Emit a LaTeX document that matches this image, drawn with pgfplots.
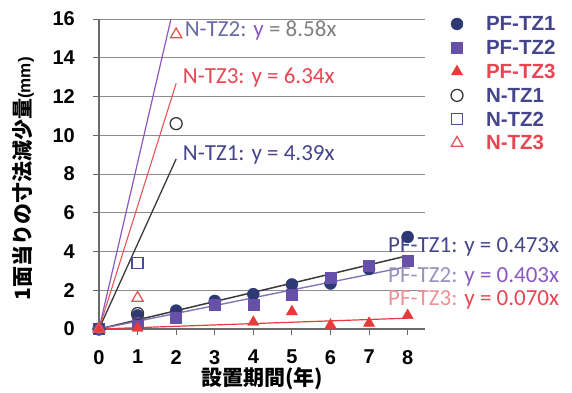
\documentclass[border=0pt]{standalone}
\usepackage{pgfplots}
\pgfplotsset{compat=1.18}
\usepackage{fontspec}
\setmainfont{Liberation Sans}
\newfontfamily\cjk{Noto Sans CJK JP}
\newfontfamily\lab{Carlito}
\definecolor{pfA}{HTML}{2F3A75}
\definecolor{pfB}{HTML}{6650A8}
\definecolor{pfC}{HTML}{E83A3A}
\definecolor{nA}{HTML}{3A3A3A}
\definecolor{nB}{HTML}{4C4C96}
\definecolor{nC}{HTML}{E05555}
\definecolor{axisgray}{HTML}{6A6A6A}
\definecolor{gridgray}{HTML}{8C8C8C}
\definecolor{lnavy}{HTML}{45458C}
\definecolor{lred}{HTML}{E84552}
\definecolor{lpurp}{HTML}{8A58C0}
\definecolor{lgrayp}{HTML}{9A90BC}
\definecolor{lpink}{HTML}{F09098}
\begin{document}
\begin{tikzpicture}[x=1pt,y=1pt]
\useasboundingbox (0,0) rectangle (572,392);
\begin{axis}[
  at={(99pt,63pt)}, anchor=south west,
  scale only axis, width=326pt, height=310pt,
  xmin=0, xmax=8.45, ymin=0, ymax=16,
  xtick={0,1,...,8}, ytick={0,2,...,16},
  axis lines=left,
  axis line style={-, draw=axisgray, line width=1.3pt},
  ymajorgrids, grid style={draw=gridgray, line width=1pt},
  tick align=outside, major tick length=6pt,
  tick style={draw=axisgray, line width=1pt},
  clip=false,
  /pgf/number format/assume math mode=true,
  ticklabel style={font=\bfseries\fontsize{20}{20}\selectfont},
  yticklabel style={anchor=east, inner sep=0pt, xshift=-18pt},
  xticklabel style={anchor=north, inner sep=0pt, yshift=-15pt},
  xlabel={\cjk\bfseries\fontsize{21}{21}\selectfont 設置期間(年)},
  xlabel style={at={(axis description cs:0.5,0)}, anchor=center, yshift=-50pt},
  ylabel={\cjk\bfseries\fontsize{21}{21}\selectfont 1面当りの寸法減少量{\fontspec{Liberation Sans}\bfseries\fontsize{17}{17}\selectfont(mm)}},
  ylabel style={at={(axis description cs:-0.233,0.484)}, anchor=center},
  legend style={draw=none, fill=none, inner sep=0pt, outer sep=0pt,
    at={(axis description cs:1.0798,1.0065)}, anchor=north west,
    font=\bfseries\fontsize{20.5}{20.5}\selectfont,
    nodes={inner sep=0pt, text height=14pt, text depth=0pt},
    row sep=9.8pt,
    /tikz/every odd column/.append style={column sep=23pt}},
  legend cell align=left,
  legend image code/.code={\draw[#1] plot coordinates {(0pt,0pt)};},
]
% data markers
\addplot[only marks, mark=*, mark size=6pt, draw=pfA, fill=pfA] coordinates {(0,0)(1,0.7)(2,0.95)(3,1.45)(4,1.8)(5,2.3)(6,2.35)(7,3.1)(8,4.75)};
\addlegendentry{\textcolor{lnavy}{PF-TZ1}}
\addplot[only marks, mark=square*, mark size=5.5pt, draw=pfB, fill=pfB] coordinates {(0,0)(1,0.35)(2,0.6)(3,1.25)(4,1.25)(5,1.75)(6,2.65)(7,3.25)(8,3.5)};
\addlegendentry{\textcolor{lnavy}{PF-TZ2}}
\addplot[only marks, mark=triangle*, mark size=6.5pt, draw=pfC, fill=pfC] coordinates {(0,0)(1,0.05)(4,0.35)(5,0.9)(6,0.2)(7,0.3)(8,0.7)};
\addlegendentry{\textcolor{lred}{PF-TZ3}}
\addplot[only marks, mark=o, mark size=6pt, draw=nA, fill=white, line width=1.3pt] coordinates {(0,0)(1,0.8)(2,10.6)};
\addlegendentry{\textcolor{lnavy}{N-TZ1}}
\addplot[only marks, mark=square, mark size=5.5pt, draw=nB, fill=white, line width=1.3pt] coordinates {(0,0)(1,3.4)};
\addlegendentry{\textcolor{lnavy}{N-TZ2}}
\addplot[only marks, mark=triangle, mark size=6.5pt, draw=nC, fill=white, line width=1.3pt] coordinates {(0,0)(1,1.6)(2,15.2)};
\addlegendentry{\textcolor{lred}{N-TZ3}}
% trend lines (y = a x)
\addplot[forget plot, no marks, draw=nA, line width=1.3pt] coordinates {(0,0)(2,8.78)};
\addplot[forget plot, no marks, draw=lpurp, line width=1.2pt] coordinates {(0,0)(1.865,16)};
\addplot[forget plot, no marks, draw=nC, line width=1.1pt] coordinates {(0,0)(2,12.68)};
\addplot[forget plot, no marks, draw=nA, line width=1.5pt] coordinates {(0,0)(8,3.784)};
\addplot[forget plot, no marks, draw=pfB!80!white, line width=1.4pt] coordinates {(0,0)(8,3.224)};
\addplot[forget plot, no marks, draw=pfC, line width=1.2pt] coordinates {(0,0)(8,0.56)};
% equation labels
\node[anchor=west, inner sep=0pt, font=\lab\fontsize{23}{23}\selectfont] at (axis cs:2.22,15.43) {\textcolor{lnavy!80!white}{N-TZ2:} \textcolor{lpurp}{y} \textcolor{gray}{= 8.58x}};
\node[anchor=west, inner sep=0pt, font=\lab\fontsize{23}{23}\selectfont] at (axis cs:2.17,13.0) {\textcolor{lred}{N-TZ3: y = 6.34x}};
\node[anchor=west, inner sep=0pt, font=\lab\fontsize{23}{23}\selectfont] at (axis cs:2.17,8.98) {\textcolor{lnavy}{N-TZ1: y = 4.39x}};
\node[anchor=west, inner sep=0pt, font=\lab\fontsize{23}{23}\selectfont] at (axis cs:7.49,4.23) {\textcolor{lnavy}{PF-TZ1: y = 0.473x}};
\node[anchor=west, inner sep=0pt, font=\lab\fontsize{23}{23}\selectfont] at (axis cs:7.49,2.68) {\textcolor{lgrayp}{PF-TZ2:} \textcolor{lpurp}{y = 0.403x}};
\node[anchor=west, inner sep=0pt, font=\lab\fontsize{23}{23}\selectfont] at (axis cs:7.49,1.5) {\textcolor{lpink}{PF-TZ3:} \textcolor{lred}{y = 0.070x}};
\end{axis}
\end{tikzpicture}
\end{document}
